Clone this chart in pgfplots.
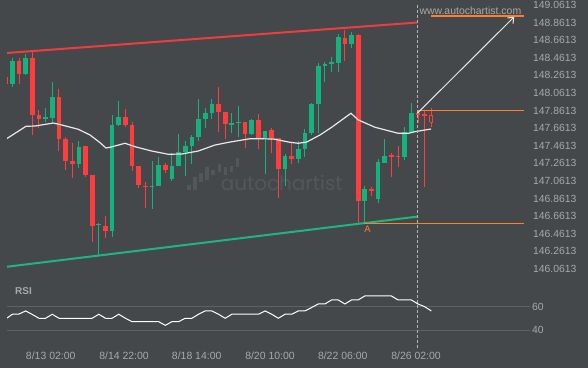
\documentclass[border=0pt]{standalone}
\usepackage{pgfplots}
\pgfplotsset{compat=1.18}
\usepackage{pgfplotstable}
\usepackage{fontspec}
\setmainfont{Liberation Sans}
\newfontfamily\wmfont{Poppins}
\usetikzlibrary{arrows.meta}
\pgfdeclarelayer{background}
\pgfsetlayers{background,main}
\definecolor{bg}{HTML}{45484B}
\definecolor{txt}{HTML}{A8A8A8}
\definecolor{cred}{HTML}{FF3D3D}
\definecolor{cgreen}{HTML}{14B37D}
\definecolor{lred}{HTML}{F03C3C}
\definecolor{lgreen}{HTML}{1DB584}
\definecolor{corange}{HTML}{FF7F2A}
\definecolor{wm}{HTML}{54575A}
\definecolor{gridc}{HTML}{5E6164}
\definecolor{dashc}{HTML}{B4B4B4}
\definecolor{ma}{HTML}{E8E8E8}

\pgfplotstableread{
i o c h l
0 148.240 148.164 148.245 148.160
2 148.425 148.281 148.456 148.160
4 148.459 147.815 148.527 147.581
5 147.808 147.766 147.865 147.660
8 148.016 147.542 148.110 147.406
9 147.539 147.289 147.565 147.186
10 147.292 147.258 147.490 147.092
12 147.459 147.130 147.459 147.110
13 147.130 146.553 147.130 146.365
15 146.550 146.497 146.667 146.417
18 147.789 147.701 147.876 147.672
19 147.698 147.235 147.728 147.178
20 147.235 147.016 147.235 146.978
21 147.004 146.997 147.053 146.751
24 147.243 147.186 147.269 147.149
32 147.936 147.849 148.126 147.622
33 147.845 147.712 147.845 147.535
36 147.732 147.599 147.732 147.440
38 147.755 147.542 147.819 147.422
40 147.641 147.553 147.660 147.376
41 147.553 147.201 147.553 146.872
43 147.345 147.315 147.497 147.258
51 148.683 148.622 148.777 148.422
53 148.720 146.837 148.732 146.581
55 146.967 146.951 146.990 146.894
58 147.357 147.345 147.376 147.103
59 147.349 147.342 147.459 147.224
62 147.834 147.823 147.868 147.720
63 147.819 147.811 147.868 146.997
}\redc

\pgfplotstableread{
i o c h l
1 148.167 148.425 148.456 148.133
3 148.281 148.459 148.505 148.269
6 147.769 147.789 147.887 147.735
7 147.777 148.016 148.183 147.724
11 147.258 147.448 147.512 147.212
14 146.561 146.573 146.584 146.220
16 146.497 147.698 147.811 146.422
17 147.701 147.789 147.970 147.686
22 146.997 147.004 147.289 146.740
23 147.004 147.243 147.331 147.004
25 147.087 147.232 147.376 147.065
26 147.232 147.391 147.592 147.232
27 147.391 147.459 147.519 147.122
28 147.459 147.561 147.581 147.251
29 147.565 147.766 147.990 147.519
30 147.766 147.834 147.887 147.660
31 147.834 147.936 147.990 147.769
34 147.709 147.717 147.831 147.603
35 147.724 147.732 147.910 147.558
37 147.599 147.755 147.762 147.584
39 147.542 147.626 147.626 147.144
42 147.201 147.345 147.372 147.008
44 147.315 147.425 147.512 147.262
45 147.425 147.603 147.652 147.337
46 147.603 147.936 147.951 147.584
47 147.936 148.368 148.406 147.603
48 148.372 148.394 148.414 148.183
49 148.394 148.410 148.467 148.297
50 148.406 148.698 148.728 148.297
52 148.622 148.720 148.751 148.569
54 146.837 146.967 147.004 146.581
56 146.860 147.277 147.308 146.808
57 147.269 147.345 147.535 147.262
60 147.337 147.618 147.678 147.300
61 147.618 147.831 147.944 147.603
}\greenc

\pgfplotstableread{
i o c h l
64 147.803 147.728 147.891 147.672
}\hollowc

\pgfplotstableread{
i p
0 147.535
3.05 147.683
4.41 147.686
7.16 147.720
8.42 147.698
10.92 147.649
12.68 147.584
14.18 147.497
15.08 147.436
15.68 147.444
17.94 147.490
19.44 147.451
21.95 147.402
24.45 147.365
26.47 147.368
28.96 147.402
31.47 147.470
33.73 147.504
36.74 147.542
40.24 147.539
42.75 147.501
44.00 147.490
45.26 147.504
47.26 147.584
49.02 147.672
51.92 147.831
53.02 147.755
55.53 147.672
59.04 147.603
60.54 147.603
61.55 147.622
63.95 147.652
}\matab

\pgfplotstableread{
i m e
27.56 146.988 0.028
28.47 147.031 0.072
29.37 147.101 0.048
30.27 147.147 0.074
31.17 147.158 0.028
32.12 147.205 0.047
33.02 147.180 0.045
33.92 147.198 0.038
34.83 147.272 0.048
}\logotab

\pgfplotstableread{
i r
0 49.6
1 53.6
2 53.8
3 56.4
4 53.4
5 50.2
6 50.2
7 53.6
8 50.2
9 50.2
10 50.2
11 50.2
12 50.2
13 50.2
14 53.6
15 50.2
16 50.2
17 53.6
18 50.2
19 47.3
20 47.3
21 47.3
22 47.3
23 47.3
24 44.2
25 47.3
26 47.3
27 50.2
28 50.2
29 53.6
30 56.4
31 56.4
32 53.6
33 50.2
34 53.6
35 53.6
36 53.6
37 53.6
38 53.6
39 56.4
40 53.6
41 50.2
42 53.6
43 53.6
44 56.4
45 56.4
46 59.3
47 62.3
48 62.3
49 65.7
50 65.7
51 62.3
52 65.7
53 65.7
54 69.1
55 69.1
56 69.1
57 69.1
58 69.1
59 65.7
60 65.7
61 65.7
62 62.3
63 60.0
64 56.4
}\rsitab

\begin{document}
\begin{tikzpicture}
\begin{axis}[
  width=523bp, height=350bp, scale only axis,
  xmin=0.1955, xmax=78.842, ymin=145.14083, ymax=149.1181,
  axis line style={draw=none}, tick style={draw=none},
  xtick={6.77,17.80,28.72,39.74,50.68,61.70},
  xticklabels={8/13 02:00,8/14 22:00,8/18 14:00,8/20 10:00,8/22 06:00,8/26 02:00},
  xticklabel style={anchor=north, inner sep=0pt, yshift=-1.9bp, font=\fontsize{10.5}{12}\selectfont, text=txt},
  ytick={146.0613,146.2613,146.4613,146.6613,146.8613,147.0613,147.2613,147.4613,147.6613,147.8613,148.0613,148.2613,148.4613,148.6613,148.8613,149.0613},
  yticklabels={146.0613,146.2613,146.4613,146.6613,146.8613,147.0613,147.2613,147.4613,147.6613,147.8613,148.0613,148.2613,148.4613,148.6613,148.8613,149.0613},
  extra y ticks={145.36469,145.63287},
  extra y tick labels={40,60},
  extra y tick style={grid=major, yticklabel style={xshift=-1bp}},
  grid style={gridc, line width=0.8bp},
  yticklabel pos=right,
  /pgf/number format/assume math mode=true,
  yticklabel style={anchor=west, inner sep=0pt, xshift=3bp, font=\fontsize{10.4}{12}\selectfont, text=txt},
  clip=true,
]
\coordinate (O) at (axis cs:0.1955,145.14083);
% watermark logo bars
\addplot[draw=none, mark=none, forget plot,
  error bars/.cd, y dir=both, y explicit, error mark=none,
  error bar style={draw=wm, line width=3.5bp}]
  table[x=i, y=m, y error=e] {\logotab};

% channel lines
\addplot[lred, line width=2bp, mark=none] coordinates {(0,148.515) (61.85,148.862)};
\addplot[lgreen, line width=2bp, mark=none] coordinates {(0,146.085) (61.85,146.656)};

% wicks
\addplot[draw=none, mark=none, forget plot,
  error bars/.cd, y dir=both, y explicit, error mark=none,
  error bar style={draw=cred, line width=1bp}]
  table[x=i, y expr={(\thisrow{h}+\thisrow{l})/2}, y error expr={(\thisrow{h}-\thisrow{l})/2}] {\redc};
\addplot[draw=none, mark=none, forget plot,
  error bars/.cd, y dir=both, y explicit, error mark=none,
  error bar style={draw=cgreen, line width=1bp}]
  table[x=i, y expr={(\thisrow{h}+\thisrow{l})/2}, y error expr={(\thisrow{h}-\thisrow{l})/2}] {\greenc};
\addplot[draw=none, mark=none, forget plot,
  error bars/.cd, y dir=both, y explicit, error mark=none,
  error bar style={draw=cred, line width=1bp}]
  table[x=i, y expr={(\thisrow{h}+\thisrow{l})/2}, y error expr={(\thisrow{h}-\thisrow{l})/2}] {\hollowc};
% bodies
\addplot[draw=none, mark=none, forget plot,
  error bars/.cd, y dir=both, y explicit, error mark=none,
  error bar style={draw=cred, line width=4.7bp}]
  table[x=i, y expr={(\thisrow{o}+\thisrow{c})/2}, y error expr={max(abs(\thisrow{o}-\thisrow{c})/2,0.0057)}] {\redc};
\addplot[draw=none, mark=none, forget plot,
  error bars/.cd, y dir=both, y explicit, error mark=none,
  error bar style={draw=cgreen, line width=4.7bp}]
  table[x=i, y expr={(\thisrow{o}+\thisrow{c})/2}, y error expr={max(abs(\thisrow{o}-\thisrow{c})/2,0.0057)}] {\greenc};
% hollow body
\addplot[draw=cred, fill=bg, line width=1bp, mark=none] coordinates {(63.77,147.728) (64.23,147.728) (64.23,147.803) (63.77,147.803) (63.77,147.728)};

% moving average
\addplot[ma, line width=1.2bp, mark=none] table[x=i, y=p] {\matab};

% orange levels
\addplot[corange, line width=1.2bp, mark=none] coordinates {(63.9,148.936) (77.94,148.936)};
\addplot[corange, line width=1.2bp, mark=none] coordinates {(61.85,147.8613) (77.94,147.8613)};
\addplot[corange, line width=1bp, mark=none] coordinates {(53.93,146.578) (77.94,146.578)};

% dashed vertical (through both panels)
\addplot[dashc, line width=0.8bp, dash pattern=on 3bp off 2bp, mark=none] coordinates {(61.9,149.0613) (61.9,145.14083)};

% arrow
\addplot[ma, line width=1bp, mark=none, -{Straight Barb[length=5bp,width=8bp]}] coordinates {(61.9,147.831) (76.48,148.928)};

% RSI panel (RSI value r placed on the panel: 60 at 145.63287, 40 at 145.36469)
\addplot[white, line width=1bp, mark=none] table[x=i, y expr={149.1181-(306.7+(60-\thisrow{r})*1.18)/88}] {\rsitab};

\node[inner sep=0pt, text=corange, font=\fontsize{9.5}{11}\selectfont] at (axis cs:54.4,146.512) {A};
\end{axis}

\begin{scope}[shift={(O)}]
\begin{pgfonlayer}{background}
\fill[bg] (-7bp,-18bp) rectangle (581bp,350bp);
\node[anchor=base west, inner sep=0pt, text=wm, font=\wmfont\fontsize{20}{23}\selectfont] at (213.7bp,159.3bp) {autochartist};
\end{pgfonlayer}
\node[anchor=west, inner sep=0pt, text=txt, font=\fontsize{10.5}{12}\selectfont] at (412.3bp,339bp) {www.autochartist.com};
\node[anchor=west, inner sep=0pt, text=txt, font=\bfseries\fontsize{10}{12}\selectfont] at (8bp,59bp) {RSI};
\end{scope}
\end{tikzpicture}
\end{document}
